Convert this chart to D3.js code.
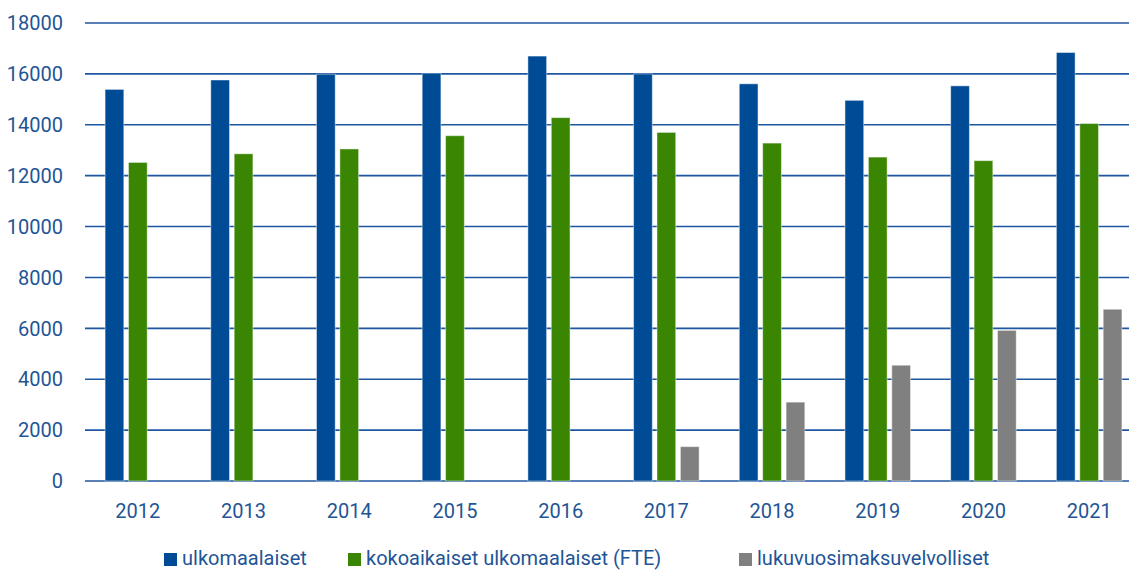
<!DOCTYPE html>
<meta charset="utf-8">
<body>
<script src="https://cdn.jsdelivr.net/npm/d3@7"></script>
<style>
    html, body {
        margin: 0;
        background: #fff;
    }
    text {
        font-family: Roboto, sans-serif;
        fill: #1f5596;
    }
</style>
<script>
var years = ["2012", "2013", "2014", "2015", "2016", "2017", "2018", "2019", "2020", "2021"],
    seriesNames = ["ulkomaalaiset", "kokoaikaiset ulkomaalaiset (FTE)", "lukuvuosimaksuvelvolliset"],
    seriesColors = ["#004b95", "#3a8502", "#808080"],
    ulkomaalaiset = [15390, 15760, 15990, 16030, 16700, 16000, 15610, 14960, 15530, 16840],
    kokoaikaiset = [12520, 12860, 13050, 13570, 14280, 13700, 13280, 12730, 12590, 14050],
    maksuvelvolliset = [0, 0, 0, 0, 0, 1350, 3100, 4550, 5920, 6750],
    yTicks = [0, 2000, 4000, 6000, 8000, 10000, 12000, 14000, 16000, 18000];

var width = 1129,
    height = 570;

var svg = d3.select("body").append("svg")
    .attr("width", width)
    .attr("height", height);

var x0 = d3.scaleBand()
    .domain(years)
    .range([85, 1142])
    .paddingInner(0.38)
    .paddingOuter(0.19);

var x1 = d3.scaleBand()
    .domain(d3.range(3))
    .range([0, x0.bandwidth()])
    .paddingInner(0.2);

var y = d3.scaleLinear()
    .domain([0, 18000])
    .range([481, 23]);

// grid lines
svg.append("g").selectAll("line")
    .data(yTicks)
    .enter().append("line")
    .attr("x1", 85)
    .attr("x2", width)
    .attr("y1", function(d) { return y(d); })
    .attr("y2", function(d) { return y(d); })
    .attr("stroke", "#1f56a0")
    .attr("stroke-width", 1.6);

svg.append("g").selectAll("text")
    .data(yTicks)
    .enter().append("text")
    .attr("x", 63)
    .attr("y", function(d) { return y(d); })
    .attr("dy", "0.36em")
    .attr("text-anchor", "end")
    .style("font-size", "20px")
    .text(function(d) { return d; });

var rows = years.map(function(yr, i) {
    return {year: yr, values: [ulkomaalaiset[i], kokoaikaiset[i], maksuvelvolliset[i]]};
});

var groups = svg.append("g").selectAll("g")
    .data(rows)
    .enter().append("g")
    .attr("transform", function(d) { return "translate(" + x0(d.year) + ",0)"; });

groups.selectAll("rect")
    .data(function(d) {
        return d.values.map(function(v, k) { return {k: k, v: v}; })
            .filter(function(e) { return e.v > 0; });
    })
    .enter().append("rect")
    .attr("x", function(d) { return x1(d.k); })
    .attr("y", function(d) { return y(d.v); })
    .attr("width", x1.bandwidth())
    .attr("height", function(d) { return y(0) - y(d.v); })
    .attr("fill", function(d) { return seriesColors[d.k]; })
    .attr("stroke", "rgba(255,255,255,0.45)")
    .attr("stroke-width", 1);

svg.append("g").selectAll("text")
    .data(years)
    .enter().append("text")
    .attr("x", function(d) { return x0(d) + x0.bandwidth() / 2; })
    .attr("y", 518)
    .attr("text-anchor", "middle")
    .style("font-size", "20px")
    .text(function(d) { return d; });

// legend
var legendX = [164, 348, 739];
var legend = svg.append("g").selectAll("g")
    .data(seriesNames)
    .enter().append("g")
    .attr("transform", function(d, i) { return "translate(" + legendX[i] + ",553)"; });

legend.append("rect")
    .attr("width", 13)
    .attr("height", 13)
    .attr("fill", function(d, i) { return seriesColors[i]; });

legend.append("text")
    .attr("x", 18)
    .attr("y", 12)
    .style("font-size", "20px")
    .text(function(d) { return d; });
</script>
